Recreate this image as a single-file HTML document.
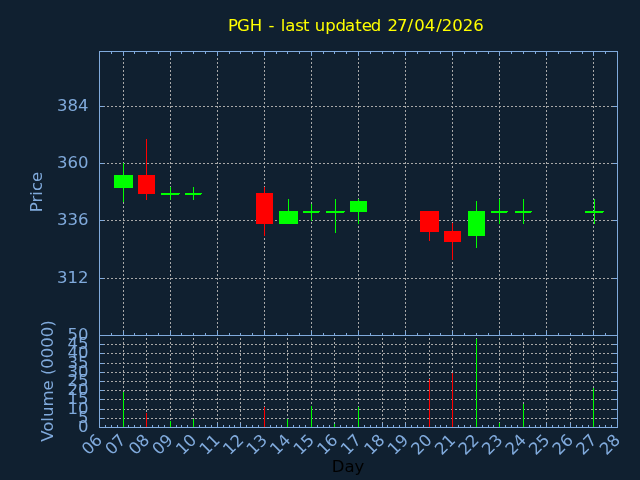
<!DOCTYPE html>
<html><head><meta charset="utf-8"><title>PGH</title>
<style>html,body{margin:0;padding:0;background:#102030;width:640px;height:480px;overflow:hidden;position:relative}svg{display:block;position:absolute;left:0;top:0}
.t,.r{position:absolute;font-family:"DejaVu Sans", "Liberation Sans", sans-serif;font-size:16.5px;line-height:20px;white-space:pre;margin:0;padding:0}
.r{left:0;width:88.5px;text-align:right;color:#80aadc}</style>
</head><body><svg width="640" height="480" viewBox="0 0 640 480"><rect x="0" y="0" width="640" height="480" fill="#102030"/><g stroke="#a8a8a8" stroke-width="1" stroke-dasharray="2 2" shape-rendering="crispEdges"><line x1="99" y1="106.5" x2="618" y2="106.5"/><line x1="99" y1="163.5" x2="618" y2="163.5"/><line x1="99" y1="220.5" x2="618" y2="220.5"/><line x1="99" y1="278.5" x2="618" y2="278.5"/><line x1="123.5" y1="336" x2="123.5" y2="51"/><line x1="170.5" y1="336" x2="170.5" y2="51"/><line x1="217.5" y1="336" x2="217.5" y2="51"/><line x1="264.5" y1="336" x2="264.5" y2="51"/><line x1="311.5" y1="336" x2="311.5" y2="51"/><line x1="358.5" y1="336" x2="358.5" y2="51"/><line x1="405.5" y1="336" x2="405.5" y2="51"/><line x1="452.5" y1="336" x2="452.5" y2="51"/><line x1="499.5" y1="336" x2="499.5" y2="51"/><line x1="546.5" y1="336" x2="546.5" y2="51"/><line x1="593.5" y1="336" x2="593.5" y2="51"/><line x1="99" y1="418.5" x2="618" y2="418.5"/><line x1="99" y1="409.5" x2="618" y2="409.5"/><line x1="99" y1="399.5" x2="618" y2="399.5"/><line x1="99" y1="390.5" x2="618" y2="390.5"/><line x1="99" y1="381.5" x2="618" y2="381.5"/><line x1="99" y1="372.5" x2="618" y2="372.5"/><line x1="99" y1="363.5" x2="618" y2="363.5"/><line x1="99" y1="353.5" x2="618" y2="353.5"/><line x1="99" y1="344.5" x2="618" y2="344.5"/><line x1="123.5" y1="428" x2="123.5" y2="335"/><line x1="146.5" y1="428" x2="146.5" y2="335"/><line x1="170.5" y1="428" x2="170.5" y2="335"/><line x1="193.5" y1="428" x2="193.5" y2="335"/><line x1="217.5" y1="428" x2="217.5" y2="335"/><line x1="240.5" y1="428" x2="240.5" y2="335"/><line x1="264.5" y1="428" x2="264.5" y2="335"/><line x1="287.5" y1="428" x2="287.5" y2="335"/><line x1="311.5" y1="428" x2="311.5" y2="335"/><line x1="334.5" y1="428" x2="334.5" y2="335"/><line x1="358.5" y1="428" x2="358.5" y2="335"/><line x1="382.5" y1="428" x2="382.5" y2="335"/><line x1="405.5" y1="428" x2="405.5" y2="335"/><line x1="429.5" y1="428" x2="429.5" y2="335"/><line x1="452.5" y1="428" x2="452.5" y2="335"/><line x1="476.5" y1="428" x2="476.5" y2="335"/><line x1="499.5" y1="428" x2="499.5" y2="335"/><line x1="523.5" y1="428" x2="523.5" y2="335"/><line x1="546.5" y1="428" x2="546.5" y2="335"/><line x1="570.5" y1="428" x2="570.5" y2="335"/><line x1="593.5" y1="428" x2="593.5" y2="335"/></g><g fill="#80aadc" shape-rendering="crispEdges"><rect x="99" y="106" width="5" height="1"/><rect x="613" y="106" width="5" height="1"/><rect x="99" y="163" width="5" height="1"/><rect x="613" y="163" width="5" height="1"/><rect x="99" y="220" width="5" height="1"/><rect x="613" y="220" width="5" height="1"/><rect x="99" y="278" width="5" height="1"/><rect x="613" y="278" width="5" height="1"/><rect x="111" y="51" width="1" height="3"/><rect x="111" y="333" width="1" height="3"/><rect x="123" y="51" width="1" height="5"/><rect x="123" y="331" width="1" height="5"/><rect x="134" y="51" width="1" height="3"/><rect x="134" y="333" width="1" height="3"/><rect x="146" y="51" width="1" height="3"/><rect x="146" y="333" width="1" height="3"/><rect x="158" y="51" width="1" height="3"/><rect x="158" y="333" width="1" height="3"/><rect x="170" y="51" width="1" height="5"/><rect x="170" y="331" width="1" height="5"/><rect x="181" y="51" width="1" height="3"/><rect x="181" y="333" width="1" height="3"/><rect x="193" y="51" width="1" height="3"/><rect x="193" y="333" width="1" height="3"/><rect x="205" y="51" width="1" height="3"/><rect x="205" y="333" width="1" height="3"/><rect x="217" y="51" width="1" height="5"/><rect x="217" y="331" width="1" height="5"/><rect x="229" y="51" width="1" height="3"/><rect x="229" y="333" width="1" height="3"/><rect x="240" y="51" width="1" height="3"/><rect x="240" y="333" width="1" height="3"/><rect x="252" y="51" width="1" height="3"/><rect x="252" y="333" width="1" height="3"/><rect x="264" y="51" width="1" height="5"/><rect x="264" y="331" width="1" height="5"/><rect x="276" y="51" width="1" height="3"/><rect x="276" y="333" width="1" height="3"/><rect x="287" y="51" width="1" height="3"/><rect x="287" y="333" width="1" height="3"/><rect x="299" y="51" width="1" height="3"/><rect x="299" y="333" width="1" height="3"/><rect x="311" y="51" width="1" height="5"/><rect x="311" y="331" width="1" height="5"/><rect x="323" y="51" width="1" height="3"/><rect x="323" y="333" width="1" height="3"/><rect x="334" y="51" width="1" height="3"/><rect x="334" y="333" width="1" height="3"/><rect x="346" y="51" width="1" height="3"/><rect x="346" y="333" width="1" height="3"/><rect x="358" y="51" width="1" height="5"/><rect x="358" y="331" width="1" height="5"/><rect x="370" y="51" width="1" height="3"/><rect x="370" y="333" width="1" height="3"/><rect x="382" y="51" width="1" height="3"/><rect x="382" y="333" width="1" height="3"/><rect x="393" y="51" width="1" height="3"/><rect x="393" y="333" width="1" height="3"/><rect x="405" y="51" width="1" height="5"/><rect x="405" y="331" width="1" height="5"/><rect x="417" y="51" width="1" height="3"/><rect x="417" y="333" width="1" height="3"/><rect x="429" y="51" width="1" height="3"/><rect x="429" y="333" width="1" height="3"/><rect x="440" y="51" width="1" height="3"/><rect x="440" y="333" width="1" height="3"/><rect x="452" y="51" width="1" height="5"/><rect x="452" y="331" width="1" height="5"/><rect x="464" y="51" width="1" height="3"/><rect x="464" y="333" width="1" height="3"/><rect x="476" y="51" width="1" height="3"/><rect x="476" y="333" width="1" height="3"/><rect x="488" y="51" width="1" height="3"/><rect x="488" y="333" width="1" height="3"/><rect x="499" y="51" width="1" height="5"/><rect x="499" y="331" width="1" height="5"/><rect x="511" y="51" width="1" height="3"/><rect x="511" y="333" width="1" height="3"/><rect x="523" y="51" width="1" height="3"/><rect x="523" y="333" width="1" height="3"/><rect x="535" y="51" width="1" height="3"/><rect x="535" y="333" width="1" height="3"/><rect x="546" y="51" width="1" height="5"/><rect x="546" y="331" width="1" height="5"/><rect x="558" y="51" width="1" height="3"/><rect x="558" y="333" width="1" height="3"/><rect x="570" y="51" width="1" height="3"/><rect x="570" y="333" width="1" height="3"/><rect x="582" y="51" width="1" height="3"/><rect x="582" y="333" width="1" height="3"/><rect x="593" y="51" width="1" height="5"/><rect x="593" y="331" width="1" height="5"/><rect x="605" y="51" width="1" height="3"/><rect x="605" y="333" width="1" height="3"/><rect x="99" y="418" width="5" height="1"/><rect x="613" y="418" width="5" height="1"/><rect x="99" y="409" width="5" height="1"/><rect x="613" y="409" width="5" height="1"/><rect x="99" y="399" width="5" height="1"/><rect x="613" y="399" width="5" height="1"/><rect x="99" y="390" width="5" height="1"/><rect x="613" y="390" width="5" height="1"/><rect x="99" y="381" width="5" height="1"/><rect x="613" y="381" width="5" height="1"/><rect x="99" y="372" width="5" height="1"/><rect x="613" y="372" width="5" height="1"/><rect x="99" y="363" width="5" height="1"/><rect x="613" y="363" width="5" height="1"/><rect x="99" y="353" width="5" height="1"/><rect x="613" y="353" width="5" height="1"/><rect x="99" y="344" width="5" height="1"/><rect x="613" y="344" width="5" height="1"/><rect x="105" y="425" width="1" height="3"/><rect x="111" y="425" width="1" height="3"/><rect x="117" y="425" width="1" height="3"/><rect x="123" y="423" width="1" height="5"/><rect x="128" y="425" width="1" height="3"/><rect x="134" y="425" width="1" height="3"/><rect x="140" y="425" width="1" height="3"/><rect x="146" y="423" width="1" height="5"/><rect x="152" y="425" width="1" height="3"/><rect x="158" y="425" width="1" height="3"/><rect x="164" y="425" width="1" height="3"/><rect x="170" y="423" width="1" height="5"/><rect x="176" y="425" width="1" height="3"/><rect x="181" y="425" width="1" height="3"/><rect x="187" y="425" width="1" height="3"/><rect x="193" y="423" width="1" height="5"/><rect x="199" y="425" width="1" height="3"/><rect x="205" y="425" width="1" height="3"/><rect x="211" y="425" width="1" height="3"/><rect x="217" y="423" width="1" height="5"/><rect x="223" y="425" width="1" height="3"/><rect x="229" y="425" width="1" height="3"/><rect x="234" y="425" width="1" height="3"/><rect x="240" y="423" width="1" height="5"/><rect x="246" y="425" width="1" height="3"/><rect x="252" y="425" width="1" height="3"/><rect x="258" y="425" width="1" height="3"/><rect x="264" y="423" width="1" height="5"/><rect x="270" y="425" width="1" height="3"/><rect x="276" y="425" width="1" height="3"/><rect x="281" y="425" width="1" height="3"/><rect x="287" y="423" width="1" height="5"/><rect x="293" y="425" width="1" height="3"/><rect x="299" y="425" width="1" height="3"/><rect x="305" y="425" width="1" height="3"/><rect x="311" y="423" width="1" height="5"/><rect x="317" y="425" width="1" height="3"/><rect x="323" y="425" width="1" height="3"/><rect x="329" y="425" width="1" height="3"/><rect x="334" y="423" width="1" height="5"/><rect x="340" y="425" width="1" height="3"/><rect x="346" y="425" width="1" height="3"/><rect x="352" y="425" width="1" height="3"/><rect x="358" y="423" width="1" height="5"/><rect x="364" y="425" width="1" height="3"/><rect x="370" y="425" width="1" height="3"/><rect x="376" y="425" width="1" height="3"/><rect x="382" y="423" width="1" height="5"/><rect x="387" y="425" width="1" height="3"/><rect x="393" y="425" width="1" height="3"/><rect x="399" y="425" width="1" height="3"/><rect x="405" y="423" width="1" height="5"/><rect x="411" y="425" width="1" height="3"/><rect x="417" y="425" width="1" height="3"/><rect x="423" y="425" width="1" height="3"/><rect x="429" y="423" width="1" height="5"/><rect x="435" y="425" width="1" height="3"/><rect x="440" y="425" width="1" height="3"/><rect x="446" y="425" width="1" height="3"/><rect x="452" y="423" width="1" height="5"/><rect x="458" y="425" width="1" height="3"/><rect x="464" y="425" width="1" height="3"/><rect x="470" y="425" width="1" height="3"/><rect x="476" y="423" width="1" height="5"/><rect x="482" y="425" width="1" height="3"/><rect x="488" y="425" width="1" height="3"/><rect x="493" y="425" width="1" height="3"/><rect x="499" y="423" width="1" height="5"/><rect x="505" y="425" width="1" height="3"/><rect x="511" y="425" width="1" height="3"/><rect x="517" y="425" width="1" height="3"/><rect x="523" y="423" width="1" height="5"/><rect x="529" y="425" width="1" height="3"/><rect x="535" y="425" width="1" height="3"/><rect x="540" y="425" width="1" height="3"/><rect x="546" y="423" width="1" height="5"/><rect x="552" y="425" width="1" height="3"/><rect x="558" y="425" width="1" height="3"/><rect x="564" y="425" width="1" height="3"/><rect x="570" y="423" width="1" height="5"/><rect x="576" y="425" width="1" height="3"/><rect x="582" y="425" width="1" height="3"/><rect x="588" y="425" width="1" height="3"/><rect x="593" y="423" width="1" height="5"/><rect x="599" y="425" width="1" height="3"/><rect x="605" y="425" width="1" height="3"/><rect x="611" y="425" width="1" height="3"/></g><g shape-rendering="crispEdges"><rect x="123" y="163" width="1" height="39" fill="#00ff00"/><rect x="114" y="175" width="19" height="13" fill="#00ff00"/><rect x="146" y="139" width="1" height="61" fill="#ff0000"/><rect x="138" y="175" width="17" height="19" fill="#ff0000"/><rect x="170" y="187" width="1" height="13" fill="#00ff00"/><rect x="161" y="193" width="19" height="1" fill="#00ff00"/><rect x="161" y="194" width="18" height="1" fill="#00ff00"/><rect x="193" y="187" width="1" height="13" fill="#00ff00"/><rect x="185" y="193" width="17" height="1" fill="#00ff00"/><rect x="185" y="194" width="16" height="1" fill="#00ff00"/><rect x="264" y="187" width="1" height="49" fill="#ff0000"/><rect x="256" y="193" width="17" height="31" fill="#ff0000"/><rect x="288" y="199" width="1" height="25" fill="#00ff00"/><rect x="279" y="211" width="19" height="13" fill="#00ff00"/><rect x="311" y="204" width="1" height="17" fill="#00ff00"/><rect x="303" y="211" width="17" height="1" fill="#00ff00"/><rect x="303" y="212" width="16" height="1" fill="#00ff00"/><rect x="335" y="199" width="1" height="34" fill="#00ff00"/><rect x="326" y="211" width="19" height="1" fill="#00ff00"/><rect x="326" y="212" width="18" height="1" fill="#00ff00"/><rect x="358" y="199" width="1" height="25" fill="#00ff00"/><rect x="350" y="201" width="17" height="11" fill="#00ff00"/><rect x="429" y="211" width="1" height="30" fill="#ff0000"/><rect x="420" y="211" width="19" height="21" fill="#ff0000"/><rect x="452" y="223" width="1" height="37" fill="#ff0000"/><rect x="444" y="231" width="17" height="11" fill="#ff0000"/><rect x="476" y="201" width="1" height="47" fill="#00ff00"/><rect x="468" y="211" width="17" height="25" fill="#00ff00"/><rect x="499" y="199" width="1" height="25" fill="#00ff00"/><rect x="491" y="211" width="17" height="1" fill="#00ff00"/><rect x="491" y="212" width="16" height="1" fill="#00ff00"/><rect x="523" y="199" width="1" height="25" fill="#00ff00"/><rect x="515" y="211" width="17" height="1" fill="#00ff00"/><rect x="515" y="212" width="16" height="1" fill="#00ff00"/><rect x="594" y="199" width="1" height="25" fill="#00ff00"/><rect x="585" y="211" width="19" height="1" fill="#00ff00"/><rect x="585" y="212" width="18" height="1" fill="#00ff00"/><rect x="123" y="392" width="1" height="35" fill="#00ff00"/><rect x="146" y="413" width="1" height="14" fill="#ff0000"/><rect x="170" y="421" width="1" height="6" fill="#00ff00"/><rect x="193" y="419" width="1" height="8" fill="#00ff00"/><rect x="264" y="407" width="1" height="20" fill="#ff0000"/><rect x="287" y="419" width="1" height="8" fill="#00ff00"/><rect x="311" y="406" width="1" height="21" fill="#00ff00"/><rect x="334" y="424" width="1" height="3" fill="#00ff00"/><rect x="358" y="407" width="1" height="20" fill="#00ff00"/><rect x="429" y="379" width="1" height="48" fill="#ff0000"/><rect x="452" y="373" width="1" height="54" fill="#ff0000"/><rect x="476" y="339" width="1" height="88" fill="#00ff00"/><rect x="499" y="423" width="1" height="4" fill="#00ff00"/><rect x="523" y="404" width="1" height="23" fill="#00ff00"/><rect x="593" y="388" width="1" height="39" fill="#00ff00"/></g><g fill="#80aadc" shape-rendering="crispEdges"><rect x="99" y="51" width="519" height="1"/><rect x="99" y="335" width="519" height="1"/><rect x="99" y="51" width="1" height="285"/><rect x="617" y="51" width="1" height="285"/><rect x="99" y="335" width="1" height="93"/><rect x="617" y="335" width="1" height="93"/><rect x="99" y="427" width="519" height="1"/></g><g fill="#80aadc" font-family='"DejaVu Sans", "Liberation Sans", sans-serif' font-size="16.5"><text transform="translate(103.3,441) rotate(-45)" text-anchor="end">06</text><text transform="translate(126.8,441) rotate(-45)" text-anchor="end">07</text><text transform="translate(150.4,441) rotate(-45)" text-anchor="end">08</text><text transform="translate(173.9,441) rotate(-45)" text-anchor="end">09</text><text transform="translate(197.5,441) rotate(-45)" text-anchor="end">10</text><text transform="translate(221.0,441) rotate(-45)" text-anchor="end">11</text><text transform="translate(244.6,441) rotate(-45)" text-anchor="end">12</text><text transform="translate(268.1,441) rotate(-45)" text-anchor="end">13</text><text transform="translate(291.7,441) rotate(-45)" text-anchor="end">14</text><text transform="translate(315.2,441) rotate(-45)" text-anchor="end">15</text><text transform="translate(338.8,441) rotate(-45)" text-anchor="end">16</text><text transform="translate(362.3,441) rotate(-45)" text-anchor="end">17</text><text transform="translate(385.8,441) rotate(-45)" text-anchor="end">18</text><text transform="translate(409.4,441) rotate(-45)" text-anchor="end">19</text><text transform="translate(432.9,441) rotate(-45)" text-anchor="end">20</text><text transform="translate(456.5,441) rotate(-45)" text-anchor="end">21</text><text transform="translate(480.0,441) rotate(-45)" text-anchor="end">22</text><text transform="translate(503.6,441) rotate(-45)" text-anchor="end">23</text><text transform="translate(527.1,441) rotate(-45)" text-anchor="end">24</text><text transform="translate(550.7,441) rotate(-45)" text-anchor="end">25</text><text transform="translate(574.2,441) rotate(-45)" text-anchor="end">26</text><text transform="translate(597.8,441) rotate(-45)" text-anchor="end">27</text><text transform="translate(621.3,441) rotate(-45)" text-anchor="end">28</text><text transform="translate(42,192) rotate(-90)" text-anchor="middle">Price</text><text transform="translate(53,381) rotate(-90)" text-anchor="middle">Volume (0000)</text></g></svg><div class="r" style="top:96px">384</div><div class="r" style="top:153px">360</div><div class="r" style="top:210px">336</div><div class="r" style="top:268px">312</div><div class="r" style="top:417px">0</div><div class="r" style="top:408px">5</div><div class="r" style="top:399px">10</div><div class="r" style="top:389px">15</div><div class="r" style="top:380px">20</div><div class="r" style="top:371px">25</div><div class="r" style="top:362px">30</div><div class="r" style="top:353px">35</div><div class="r" style="top:343px">40</div><div class="r" style="top:334px">45</div><div class="r" style="top:325px">50</div><div class="t" style="left:298px;top:457px;width:100px;text-align:center;color:#000">Day</div><div class="t" style="left:228px;top:16px;color:#ffff00">P<span style="position:relative;left:-1px">G</span><span style="position:relative;left:-1px">H</span> - <span style="position:relative;left:1px">l</span><span style="position:relative;left:1px">a</span><span style="position:relative;left:1px">s</span>t upd<span style="position:relative;left:-1px">a</span><span style="position:relative;left:-1px">t</span><span style="position:relative;left:-1px">e</span><span style="position:relative;left:-2px">d</span> <span style="position:relative;left:-1px">2</span><span style="position:relative;left:-2px">7</span><span style="position:relative;left:-2px">/</span><span style="position:relative;left:-1px">0</span><span style="position:relative;left:-1px">4</span>/2026</div></body></html>
